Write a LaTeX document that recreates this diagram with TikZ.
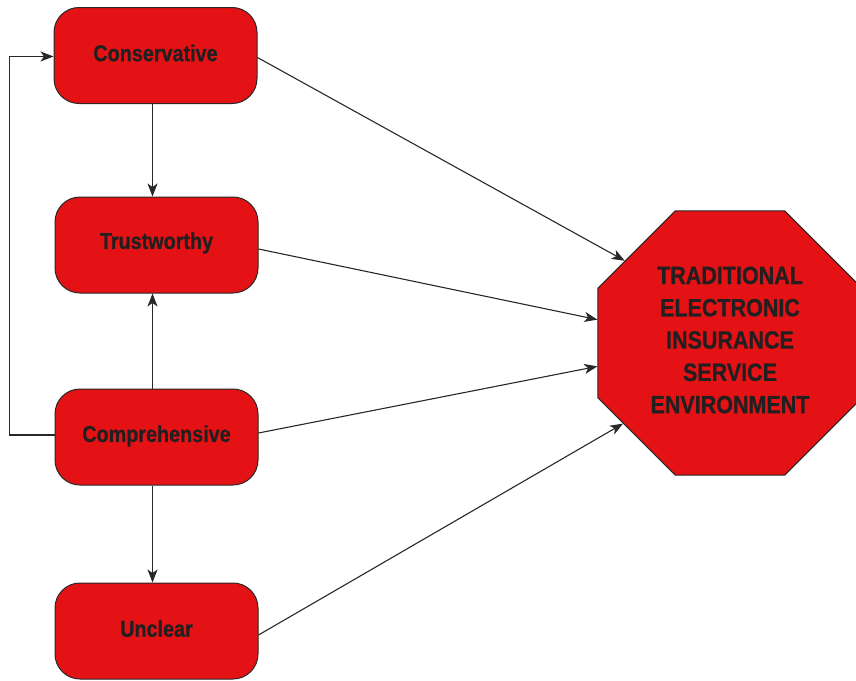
\documentclass[tikz,border=0pt]{standalone}
\usepackage{fontspec}
\setmainfont{Liberation Sans}[FakeStretch=0.86, BoldFeatures={FakeBold=0.7}]
\usetikzlibrary{shapes.geometric,arrows.meta}

\definecolor{boxred}{RGB}{228,18,20}
\definecolor{edgegray}{RGB}{40,40,40}
\definecolor{inkdark}{RGB}{35,31,32}

% lift a label without changing the box it reports
\newcommand{\liftby}[2]{\raisebox{#1}[\height][\depth]{#2}}

\tikzset{
  factor/.style={draw=edgegray, line width=1pt, fill=boxred, rounded corners=25pt,
    minimum width=203pt, minimum height=96pt, inner sep=0pt,
    text=inkdark, font=\fontsize{23}{26}\selectfont\bfseries},
  envnode/.style={draw=edgegray, line width=1pt, fill=boxred, regular polygon,
    regular polygon sides=8, minimum size=286pt, inner sep=0pt,
    text=inkdark, font=\fontsize{25}{32.3}\selectfont\bfseries},
  link/.style={draw=edgegray, line width=1.1pt,
    -{Stealth[length=13pt, width=10pt, inset=3.5pt]}}
}

\begin{document}
\begin{tikzpicture}[x=1pt, y=-1pt]
  \useasboundingbox (0,0) rectangle (856,680);

  % four attribute boxes
  \node[factor] (cons)  at (155.5, 55.5) {\liftby{2.5pt}{Conservative}};
  \node[factor] (trust) at (156.5, 245)  {\liftby{2pt}{Trustworthy}};
  \node[factor] (comp)  at (156.5, 437)  {\liftby{1pt}{Comprehensive}};
  \node[factor] (uncl)  at (156.5, 631)  {\liftby{2.5pt}{Unclear}};

  % target environment
  \node[envnode] (env) at (730, 343)
    {\liftby{3pt}{\parbox{170pt}{\centering TRADITIONAL\\ELECTRONIC\\INSURANCE\\SERVICE\\ENVIRONMENT}}};

  % vertical links between the boxes
  \draw[link] ([xshift=-3pt]cons.south) -- ([xshift=-4pt]trust.north);
  \draw[link] ([xshift=-4pt]comp.north) -- ([xshift=-4pt]trust.south);
  \draw[link] ([xshift=-4pt]comp.south) -- ([xshift=-4pt]uncl.north);

  % feedback loop on the left
  \draw[link] ([yshift=2pt]comp.west) -- ++(-45,0) |- ([yshift=-1pt]cons.west);

  % links into the environment
  \draw[link] ([yshift=-2pt]cons.east) -- (env.142.7);
  \draw[link] ([yshift=-4pt]trust.east) -- (env.170);
  \draw[link] ([yshift=4pt]comp.east)  -- (env.190.6);
  \draw[link] ([yshift=-4pt]uncl.east)  -- (env.217);
\end{tikzpicture}
\end{document}
